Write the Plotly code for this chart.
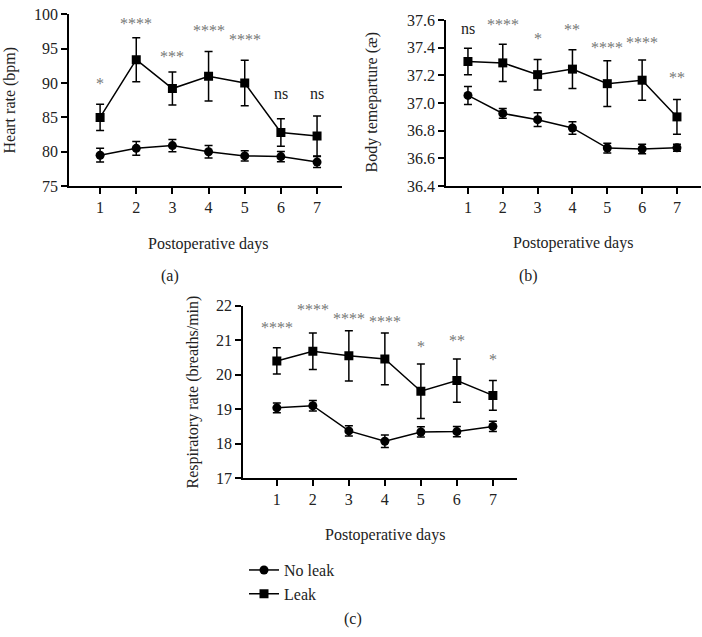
import plotly.graph_objects as go

W, H = 702, 637

days = [1, 2, 3, 4, 5, 6, 7]

# (a) Heart rate
hr_noleak = [79.5, 80.5, 80.9, 80.0, 79.4, 79.3, 78.5]
hr_noleak_err = [1.0, 1.0, 0.9, 0.9, 0.75, 0.75, 0.8]
hr_leak = [85.0, 93.4, 89.2, 91.0, 90.0, 82.8, 82.3]
hr_leak_err = [1.9, 3.2, 2.4, 3.6, 3.3, 2.0, 2.9]
hr_sig = ["*", "****", "***", "****", "****", "ns", "ns"]
hr_sig_y = [89.6, 98.4, 93.6, 97.4, 96.1, 88.0, 88.0]

# (b) Body temperature
bt_noleak = [37.055, 36.925, 36.88, 36.82, 36.675, 36.668, 36.677]
bt_noleak_err = [0.065, 0.035, 0.05, 0.045, 0.035, 0.035, 0.025]
bt_leak = [37.30, 37.29, 37.205, 37.245, 37.14, 37.165, 36.90]
bt_leak_err = [0.095, 0.135, 0.11, 0.14, 0.165, 0.145, 0.125]
bt_sig = ["ns", "****", "*", "**", "****", "****", "**"]
bt_sig_y = [37.516, 37.55, 37.45, 37.52, 37.39, 37.42, 37.17]

# (c) Respiratory rate
rr_noleak = [19.04, 19.10, 18.37, 18.07, 18.34, 18.35, 18.50]
rr_noleak_err = [0.14, 0.15, 0.15, 0.18, 0.15, 0.15, 0.15]
rr_leak = [20.40, 20.68, 20.55, 20.46, 19.52, 19.83, 19.40]
rr_leak_err = [0.38, 0.53, 0.73, 0.75, 0.79, 0.63, 0.43]
rr_sig = ["****", "****", "****", "****", "*", "**", "*"]
rr_sig_y = [21.32, 21.83, 21.58, 21.49, 20.76, 20.95, 20.39]

FONT = "Liberation Serif"


def px(x):
    return x / W


def py(y):
    return 1 - y / H


fig = go.Figure()

panels = [
    dict(xa="x", ya="y", noleak=hr_noleak, nle=hr_noleak_err, leak=hr_leak, le=hr_leak_err,
         sig=hr_sig, sigy=hr_sig_y, legend=True),
    dict(xa="x2", ya="y2", noleak=bt_noleak, nle=bt_noleak_err, leak=bt_leak, le=bt_leak_err,
         sig=bt_sig, sigy=bt_sig_y, legend=False),
    dict(xa="x3", ya="y3", noleak=rr_noleak, nle=rr_noleak_err, leak=rr_leak, le=rr_leak_err,
         sig=rr_sig, sigy=rr_sig_y, legend=False),
]

for p in panels:
    fig.add_trace(go.Scatter(
        x=days, y=p["noleak"], xaxis=p["xa"], yaxis=p["ya"], name="No leak",
        mode="lines+markers", line=dict(color="black", width=1.5),
        marker=dict(symbol="circle", size=9, color="black"),
        error_y=dict(type="data", array=p["nle"], color="black", thickness=1.5, width=4),
        showlegend=p["legend"], legendrank=1))
    fig.add_trace(go.Scatter(
        x=days, y=p["leak"], xaxis=p["xa"], yaxis=p["ya"], name="Leak",
        mode="lines+markers", line=dict(color="black", width=1.5),
        marker=dict(symbol="square", size=9, color="black"),
        error_y=dict(type="data", array=p["le"], color="black", thickness=1.5, width=4),
        showlegend=p["legend"], legendrank=2))
    for d, s, yv in zip(days, p["sig"], p["sigy"]):
        is_star = s.startswith("*")
        fig.add_annotation(
            x=d, y=yv, xref=p["xa"], yref=p["ya"], text=s, showarrow=False,
            font=dict(family=FONT, size=16, color="#777777" if is_star else "#222222"),
            yshift=2 if is_star else 3)

axis_common = dict(showline=True, linecolor="black", linewidth=1.5, ticks="outside",
                   ticklen=6, tickwidth=1.5, tickcolor="black", showgrid=False, zeroline=False,
                   tickfont=dict(family=FONT, size=16, color="#222222"))

fig.update_layout(
    width=W, height=H, margin=dict(l=0, r=0, t=0, b=0),
    paper_bgcolor="white", plot_bgcolor="white",
    font=dict(family=FONT, size=16, color="#222222"),
    xaxis=dict(domain=[px(69), px(342)], range=[0.14, 7.69], tickvals=days, anchor="y", **axis_common),
    yaxis=dict(domain=[py(183), py(6.5)], range=[75, 100], tickvals=[75, 80, 85, 90, 95, 100],
               anchor="x", **axis_common),
    xaxis2=dict(domain=[px(446), px(701)], range=[0.37, 7.69], tickvals=days, anchor="y2", **axis_common),
    yaxis2=dict(domain=[py(183), py(12.3)], range=[36.4, 37.6],
                tickvals=[36.4, 36.6, 36.8, 37.0, 37.2, 37.4, 37.6], tickformat=".1f",
                anchor="x2", **axis_common),
    xaxis3=dict(domain=[px(243), px(517)], range=[0.06, 7.67], tickvals=days, anchor="y3", **axis_common),
    yaxis3=dict(domain=[py(483), py(306)], range=[17, 22], tickvals=[17, 18, 19, 20, 21, 22],
                anchor="x3", **axis_common),
    legend=dict(x=px(244), y=py(560), xanchor="left", yanchor="top",
                font=dict(family=FONT, size=16, color="#222222"),
                bgcolor="rgba(0,0,0,0)", tracegroupgap=2, itemwidth=30),
)

texts = [
    ("Postoperative days", 208, 242, 0),
    ("(a)", 170, 275, 0),
    ("Postoperative days", 573, 241, 0),
    ("(b)", 528, 275, 0),
    ("Postoperative days", 385, 541, 0),
    ("(c)", 353, 628, 0),
    ("Heart rate (bpm)", 10, 95, -90),
    ("Body temeparture (æ)", 372, 97, -90),
    ("Respiratory rate (breaths/min)", 193, 395, -90),
]
for t, x, y, ang in texts:
    fig.add_annotation(x=px(x), y=py(y), xref="paper", yref="paper", text=t, showarrow=False,
                       textangle=ang, xanchor="center", yanchor="middle",
                       font=dict(family=FONT, size=16, color="#222222"))

fig.write_html("out.html", config={"displayModeBar": False},
               post_script="document.body.style.margin='0';document.body.style.overflow='hidden';")
